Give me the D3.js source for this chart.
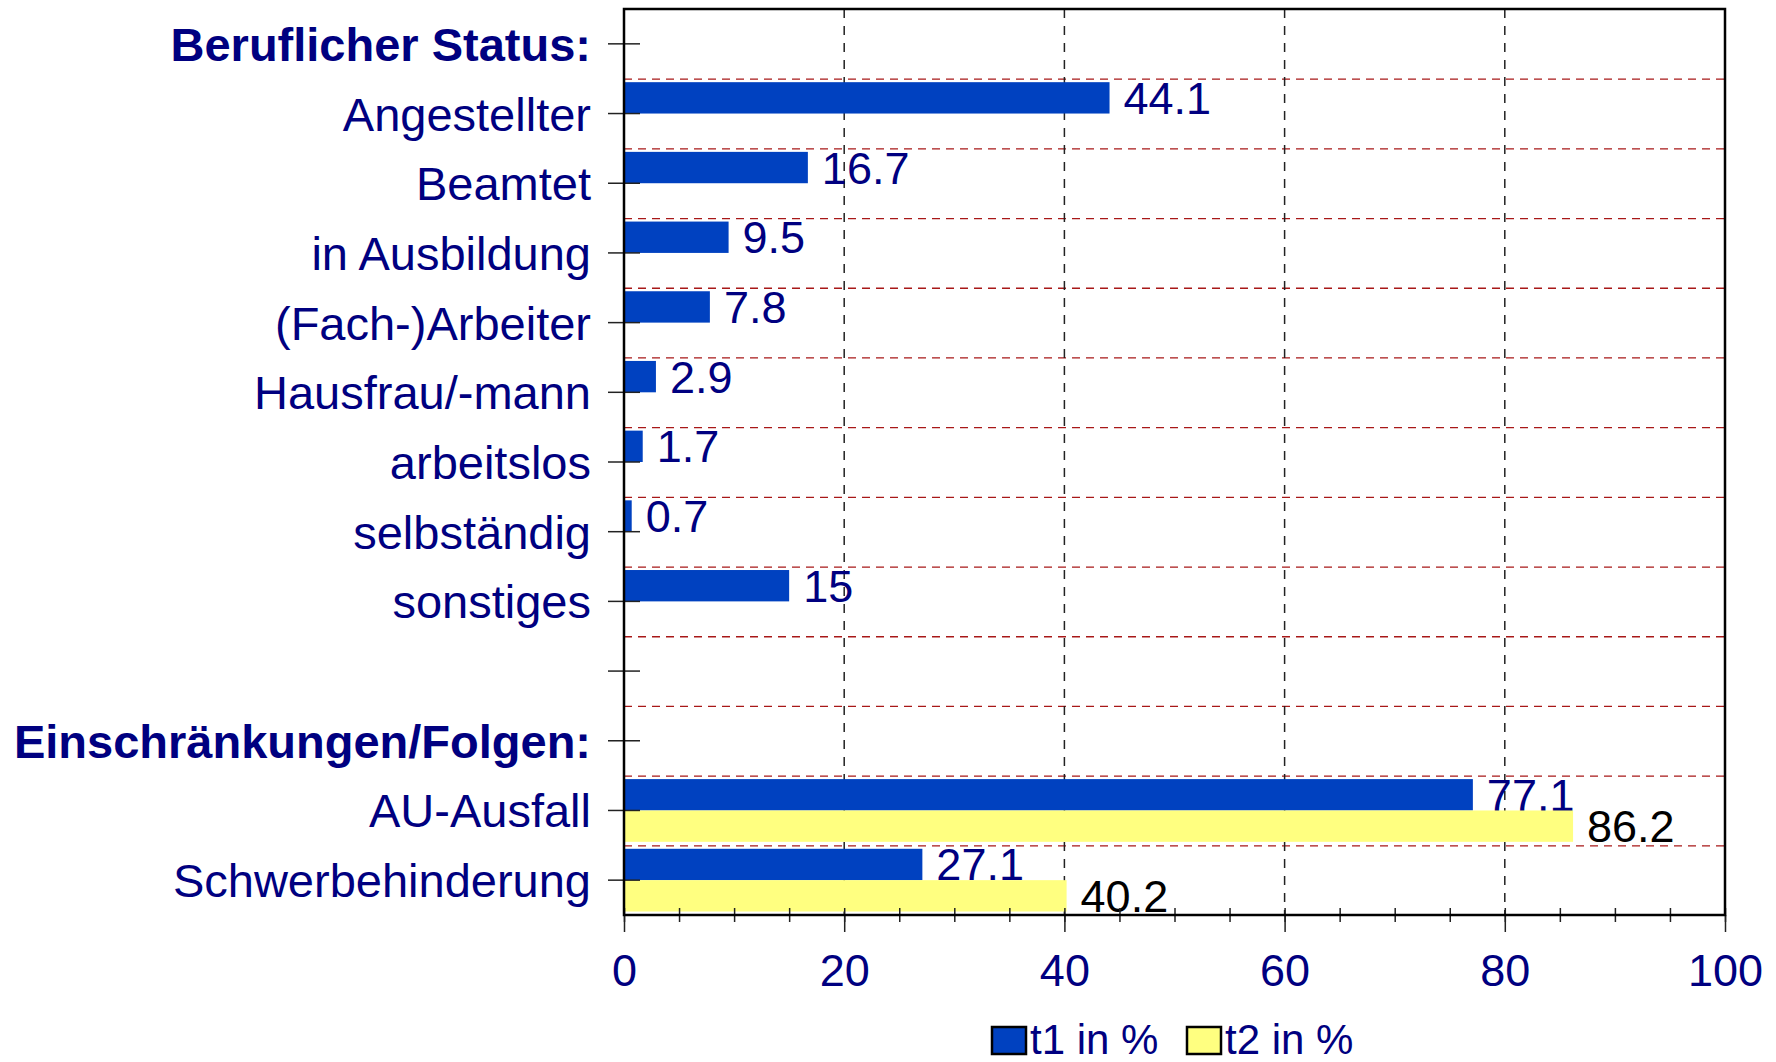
<!DOCTYPE html>
<html>
<head>
<meta charset="utf-8">
<script src="https://cdn.jsdelivr.net/npm/d3@7"></script>
<style>
  body { margin: 0; background: #fff; }
  text { font-family: "Liberation Sans", Arial, sans-serif; }
</style>
</head>
<body>
<svg id="svg" width="1776" height="1062"></svg>
<script>
var categories = ["Beruflicher Status:", "Angestellter", "Beamtet", "in Ausbildung", "(Fach-)Arbeiter",
    "Hausfrau/-mann", "arbeitslos", "selbständig", "sonstiges", "",
    "Einschränkungen/Folgen:", "AU-Ausfall", "Schwerbehinderung"];
var headers = [0, 10];
var t1 = [null, 44.1, 16.7, 9.5, 7.8, 2.9, 1.7, 0.7, 15, null, null, 77.1, 27.1];
var t2 = [null, null, null, null, null, null, null, null, null, null, null, 86.2, 40.2];
var seriesNames = ["t1 in %", "t2 in %"];
var xTicks = [0, 20, 40, 60, 80, 100];

var svg = d3.select("#svg");

var navy = "#000080",
    blue = "#0041c0",
    yellow = "#ffff80",
    fs = 45;

var L = 624, R = 1725, T = 9, B = 915;

var x = d3.scaleLinear().domain([0, 100]).range([L, R]);
var y = d3.scaleBand().domain(d3.range(categories.length)).range([T, B]);
var bw = y.bandwidth(), barH = bw * 0.45;

// grid
svg.append("g").selectAll("line").data(d3.range(1, categories.length)).join("line")
    .attr("x1", L).attr("x2", R).attr("y1", i => y(i) + 0.5).attr("y2", i => y(i) + 0.5)
    .attr("stroke", "#a81818").attr("stroke-width", 1.3).attr("stroke-dasharray", "8,6");
svg.append("g").selectAll("line").data(xTicks.slice(1, -1)).join("line")
    .attr("x1", d => x(d)).attr("x2", d => x(d)).attr("y1", T).attr("y2", B)
    .attr("stroke", "#222").attr("stroke-width", 1.5).attr("stroke-dasharray", "9,8");

// bars and value labels
var rows1 = t1.map((v, i) => ({v: v, i: i})).filter(d => d.v != null);
var rows2 = t2.map((v, i) => ({v: v, i: i})).filter(d => d.v != null);

svg.append("g").selectAll("rect").data(rows1).join("rect")
    .attr("x", x(0)).attr("y", d => y(d.i) + bw / 2 - barH)
    .attr("width", d => x(d.v) - x(0)).attr("height", barH)
    .attr("fill", blue);
svg.append("g").selectAll("text").data(rows1).join("text")
    .attr("x", d => x(d.v) + 14).attr("y", d => y(d.i) + bw / 2 - barH / 2 + 16)
    .attr("font-size", fs).attr("fill", navy).text(d => d.v);

svg.append("g").selectAll("rect").data(rows2).join("rect")
    .attr("x", x(0)).attr("y", d => y(d.i) + bw / 2)
    .attr("width", d => x(d.v) - x(0)).attr("height", barH)
    .attr("fill", yellow);
svg.append("g").selectAll("text").data(rows2).join("text")
    .attr("x", d => x(d.v) + 14).attr("y", d => y(d.i) + bw / 2 + barH / 2 + 16)
    .attr("font-size", fs).attr("fill", "#000").text(d => d.v);

// y axis
var yAxis = svg.append("g").attr("transform", "translate(" + L + ",0)")
    .call(d3.axisLeft(y).tickSize(16).tickPadding(17).tickFormat(i => categories[i]));
yAxis.select(".domain").remove();
yAxis.selectAll(".tick line").attr("x2", 16).attr("x1", -16).attr("stroke", "#222").attr("stroke-width", 1.5);
yAxis.selectAll(".tick text")
    .attr("font-size", 47).attr("fill", navy).attr("dy", null).attr("y", 17)
    .attr("font-weight", i => headers.includes(i) ? "bold" : null)
    .style("font-family", '"Liberation Sans", Arial, sans-serif');

// x axis: minor and major ticks
var xMinor = svg.append("g").attr("transform", "translate(0," + B + ")")
    .call(d3.axisBottom(x).ticks(20).tickSize(7).tickFormat(""));
xMinor.select(".domain").remove();
xMinor.selectAll(".tick line").attr("y1", -7).attr("stroke", "#222").attr("stroke-width", 1.5);

var xAxis = svg.append("g").attr("transform", "translate(0," + B + ")")
    .call(d3.axisBottom(x).tickValues(xTicks).tickSize(17).tickPadding(22));
xAxis.select(".domain").remove();
xAxis.selectAll(".tick line").attr("stroke", "#222").attr("stroke-width", 1.5);
xAxis.selectAll(".tick text").attr("font-size", fs).attr("fill", navy)
    .style("font-family", '"Liberation Sans", Arial, sans-serif');

// plot frame
svg.append("rect").attr("x", L).attr("y", T).attr("width", R - L).attr("height", B - T)
    .attr("fill", "none").attr("stroke", "#000").attr("stroke-width", 2.5);

// legend
var lg = svg.append("g").selectAll("g").data(seriesNames).join("g")
    .attr("transform", (d, i) => "translate(" + [992, 1187][i] + ",1027)");
lg.append("rect").attr("width", 34).attr("height", 27)
    .attr("fill", (d, i) => [blue, yellow][i]).attr("stroke", "#000").attr("stroke-width", 2.5);
lg.append("text").attr("x", 38).attr("y", 27).attr("font-size", 42).attr("fill", navy).text(d => d);
</script>
</body>
</html>
